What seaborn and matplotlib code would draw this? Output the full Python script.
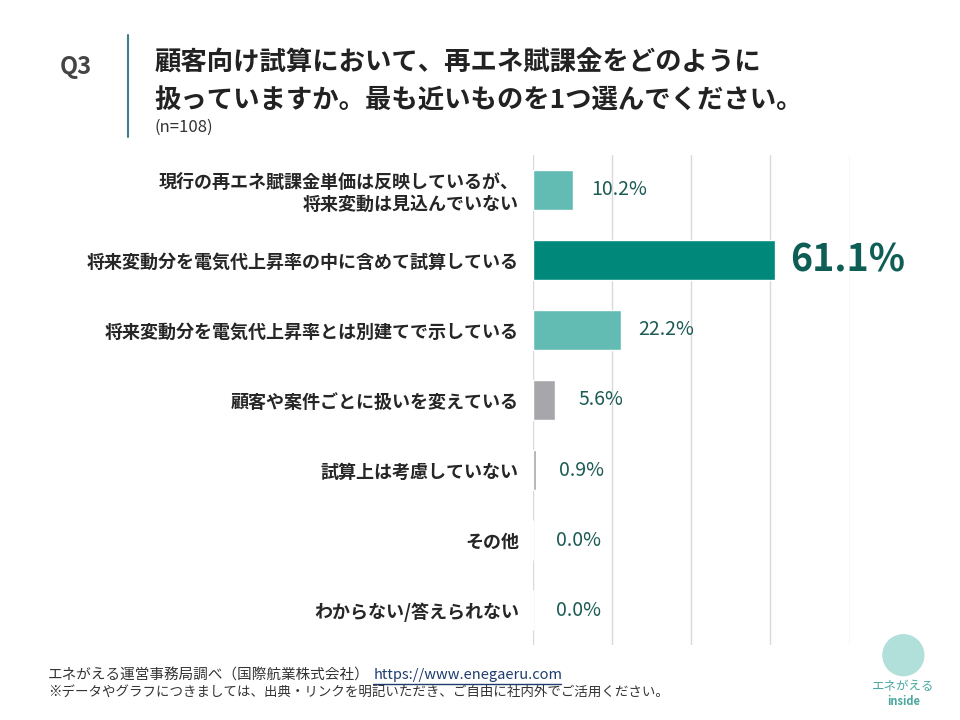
import matplotlib
matplotlib.use("Agg")
import matplotlib.pyplot as plt
import seaborn as sns
import pandas as pd
from matplotlib.patches import Ellipse

# data
labels = [
    "現行の再エネ賦課金単価は反映しているが、\n将来変動は見込んでいない",
    "将来変動分を電気代上昇率の中に含めて試算している",
    "将来変動分を電気代上昇率とは別建てで示している",
    "顧客や案件ごとに扱いを変えている",
    "試算上は考慮していない",
    "その他",
    "わからない/答えられない",
]
values = [10.2, 61.1, 22.2, 5.6, 0.9, 0.0, 0.0]
bar_colors = ["#63bcb4", "#00897a", "#63bcb4", "#a7a7ab", "#a7a7ab", "#a7a7ab", "#a7a7ab"]

sns.set_theme(style="white")
plt.rcParams['font.family'] = ['Noto Sans CJK JP', 'DejaVu Sans']

df = pd.DataFrame({"label": labels, "value": values})

fig = plt.figure(figsize=(9.6, 7.2), dpi=100)
ax = fig.add_axes([0.555, 0.104, 0.33, 0.681])

sns.barplot(data=df, x="value", y="label", hue="label", palette=bar_colors,
            legend=False, width=0.57, ax=ax, saturation=1)

ax.set_xlim(0, 80)
ax.set_ylim(6.5, -0.5)
ax.set_xticks([0, 20, 40, 60, 80])
ax.xaxis.grid(True, color="#d9d9d9", linewidth=1)
ax.set_axisbelow(True)
ax.set_xticklabels([])
ax.tick_params(axis="x", length=0)
ax.tick_params(axis="y", length=0, pad=10)
for s in ax.spines.values():
    s.set_visible(False)
ax.set_xlabel("")
ax.set_ylabel("")
for t in ax.get_yticklabels():
    t.set_fontsize(13)
    t.set_fontweight("bold")
    t.set_color("#262626")
    t.set_horizontalalignment("right")
    t.set_multialignment("right")

# value labels
for i, v in enumerate(values):
    if v == max(values):
        ax.text(v + 3.8, i, f"{v:.1f}%", va="center", ha="left", fontsize=27,
                fontweight="bold", color="#0f5e55", clip_on=False)
    else:
        ax.text(v + 11.5, i, f"{v:.1f}%", va="center", ha="center",
                fontsize=14, color="#1d5c55", clip_on=False)

# header
fig.text(0.062, 0.907, "Q3", fontsize=17, fontweight="bold", color="#444444",
         va="center", ha="left")
fig.add_artist(plt.Line2D([0.133, 0.133], [0.81, 0.951], color="#3f7f8c", linewidth=1.5))
fig.text(0.161, 0.912, "顧客向け試算において、再エネ賦課金をどのように", fontsize=19,
         fontweight="bold", color="#222222", va="center", ha="left")
fig.text(0.161, 0.861, "扱っていますか。最も近いものを1つ選んでください。", fontsize=19,
         fontweight="bold", color="#222222", va="center", ha="left")
fig.text(0.161, 0.823, "(n=108)", fontsize=12, color="#333333", va="center", ha="left")

# footer
fig.text(0.05, 0.062, "エネがえる運営事務局調べ（国際航業株式会社）", fontsize=10.5,
         color="#333333", va="center", ha="left")
fig.text(0.389, 0.062, "https://www.enegaeru.com", fontsize=10.5, color="#1f3c6e",
         va="center", ha="left")
fig.add_artist(plt.Line2D([0.389, 0.584], [0.05, 0.05], color="#1f3c6e", linewidth=1))
fig.text(0.05, 0.039, "※データやグラフにつきましては、出典・リンクを明記いただき、ご自由に社内外でご活用ください。",
         fontsize=9.7, color="#333333", va="center", ha="left")

# logo
fig.add_artist(Ellipse((0.941, 0.09), 0.044, 0.044 * 960 / 720, transform=fig.transFigure,
                       facecolor="#8fd3c9", edgecolor="none", alpha=0.7))
fig.text(0.941, 0.047, "エネがえる", fontsize=9, color="#4aa89e", ha="center", va="center")
fig.text(0.941, 0.026, "inside", fontsize=8, color="#4aa89e", ha="center", va="center",
         fontweight="bold")

fig.savefig("out.png", dpi=100)
